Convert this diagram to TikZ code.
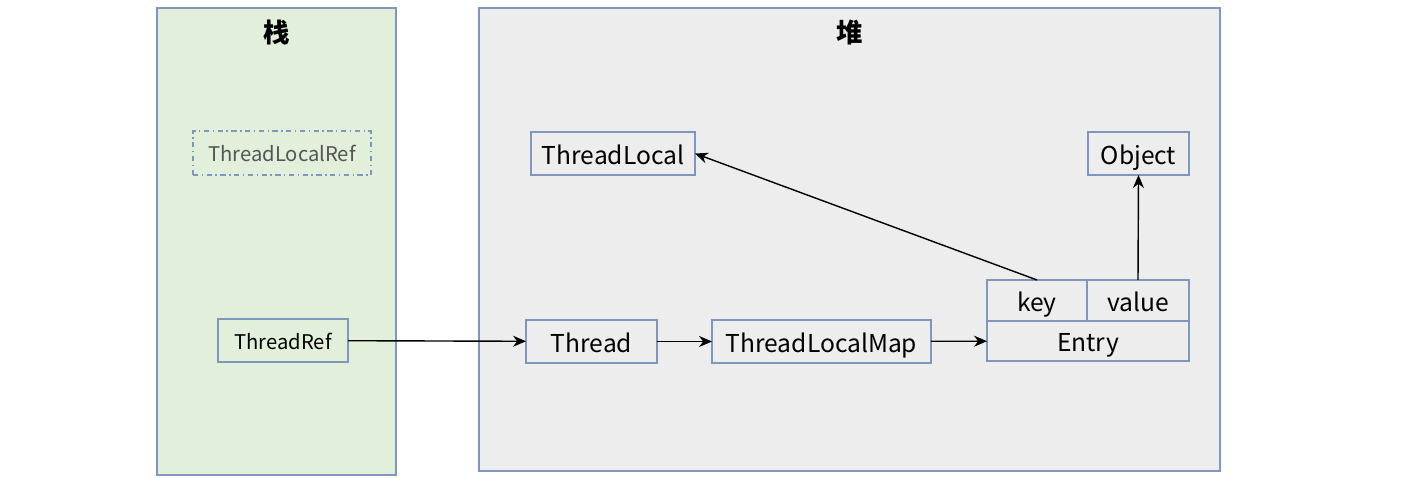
\documentclass[tikz,border=0pt]{standalone}
\usepackage{fontspec}
\setmainfont{Noto Sans CJK SC}
\usepackage{tikz}
\usetikzlibrary{arrows.meta,positioning}
\definecolor{framecol}{HTML}{7F96BE}
\definecolor{stackfill}{HTML}{E2EFDA}
\definecolor{heapfill}{HTML}{EDEDED}
\definecolor{reftext}{HTML}{555555}
\tikzset{
  panel/.style={draw=framecol, line width=0.8pt, inner sep=0pt},
  objbox/.style={draw=framecol, line width=0.8pt, fill=heapfill, align=center, inner sep=0pt, outer sep=0pt, text height=12pt, text depth=0pt, minimum height=8.6mm, font=\fontsize{14}{16}\selectfont},
  refbox/.style={draw=framecol, line width=0.8pt, fill=stackfill, align=center, inner sep=0pt, outer sep=0pt, text height=10pt, text depth=0pt, minimum height=8.6mm, font=\fontsize{11.5}{14}\selectfont},
  title/.style={font=\bfseries\fontsize{15}{18}\selectfont},
  arrow/.style={-{Stealth[length=2.6mm, width=2.2mm]}, line width=0.8pt, draw=black}
}

\begin{document}
\begin{tikzpicture}
  \useasboundingbox (0,0) rectangle (28.34,9.56);

  \node[panel, fill=stackfill, minimum width=47.8mm, minimum height=93.4mm] (stack) at (5.53,4.73) {};
  \node[panel, fill=heapfill, minimum width=148.2mm, minimum height=92.6mm] (heap) at (16.99,4.77) {};
  \node[title] (stacktitle) at (5.54,8.90) {栈};
  \node[title] (heaptitle) at (17.0,8.90) {堆};

  \node[refbox, dash dot, text=reftext, minimum width=35.6mm, minimum height=8.8mm] (tlref) at (5.64,6.50) {ThreadLocalRef};
  \node[refbox, minimum width=26mm] (threadref) at (5.66,2.75) {ThreadRef};

  \node[objbox, minimum width=32.8mm] (threadlocal) at (12.26,6.49) {ThreadLocal};
  \node[objbox, minimum width=20.2mm] (object) at (22.77,6.49) {Object};
  \node[objbox, minimum width=26.2mm] (thread) at (11.83,2.73) {Thread};
  \node[objbox, minimum width=43.8mm] (tlmap) at (16.43,2.73) {ThreadLocalMap};
  \node[objbox, minimum width=40.4mm, minimum height=8mm] (entry) at (21.76,2.74) {Entry};
  \node[objbox, minimum width=20mm, minimum height=8.2mm, above right=0pt of entry.north west] (key) {key};
  \node[objbox, minimum width=20.4mm, minimum height=8.2mm, right=0pt of key] (value) {value};

  \draw[arrow] (threadref) -- (thread);
  \draw[arrow] (thread) -- (tlmap);
  \draw[arrow] (tlmap) -- (entry);
  \draw[arrow] (key.north) -- (threadlocal.east);
  \draw[arrow] (value.north) -- (object.south);
\end{tikzpicture}
\end{document}
